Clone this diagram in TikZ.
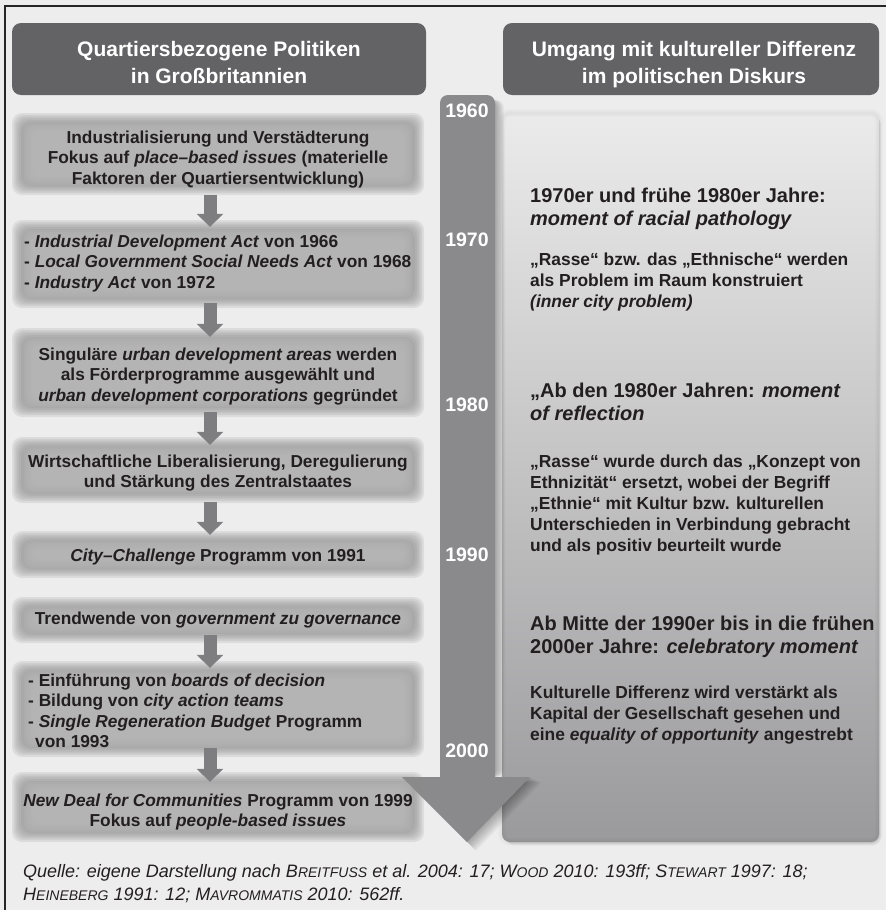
\documentclass[tikz,border=0pt]{standalone}
\usepackage{fontspec}
\setmainfont{Liberation Sans}
\usetikzlibrary{arrows.meta}
\definecolor{bg}{HTML}{EDEDED}
\definecolor{hdr}{HTML}{636365}
\definecolor{txt}{HTML}{231F20}
\definecolor{tl}{HTML}{8A8A8C}
\definecolor{boxdark}{HTML}{8A8A8A}
\definecolor{boxlight}{HTML}{BBBBBB}
\definecolor{arr}{HTML}{7E7E80}
\definecolor{paneltop}{HTML}{EBEBEB}
\definecolor{panelbot}{HTML}{9A9A9C}
\newcommand\fakesc[2]{#1{\fontsize{14}{14}\selectfont #2}}
\newcommand\softbox[5]{%
  \foreach \i in {0,...,5}{%
    \fill[boxdark, opacity=0.17, rounded corners=10pt] ({#2+\i*1.8},{#3+\i*1.8}) rectangle ({#4-\i*1.8},{#5-\i*1.8});
  }%
  \foreach \i in {0,...,4}{%
    \fill[boxlight, opacity=0.22, rounded corners=8pt] ({#2+12+\i*2.2},{#3+10+\i*2.2}) rectangle ({#4-12-\i*2.2},{#5-10-\i*2.2});
  }%
  \node[inner sep=0, minimum width={(#4-#2)*1pt}, minimum height={(#5-#3)*1pt}] (#1) at ({(#2+#4)/2},{(#3+#5)/2}) {};
}
\begin{document}
\begin{tikzpicture}[x=1pt,y=-1pt,
  headbox/.style={fill=hdr, rounded corners=9pt, inner sep=0},
  headtext/.style={text=white, font=\fontsize{21}{27}\selectfont\bfseries, align=center, inner sep=0, anchor=base},
  ltext/.style={text=txt, font=\fontsize{17.3}{20.5}\selectfont\bfseries, inner sep=0},
  rhead/.style={text=txt, font=\fontsize{20}{23.5}\selectfont\bfseries, align=left, inner sep=0, anchor=base west},
  rbody/.style={text=txt, font=\fontsize{17.4}{21}\selectfont\bfseries, align=left, inner sep=0, anchor=base west},
  year/.style={text=white, font=\fontsize{19.5}{20}\selectfont\bfseries, inner sep=0, anchor=base},
  flow/.style={draw=arr, line width=13pt, -{Triangle[width=26pt,length=13pt]}},
]
\useasboundingbox (0,0) rectangle (886,910);
\fill[bg] (0,0) rectangle (886,910);
\draw[black!85, line width=1.3pt] (5,910) -- (5,6) -- (886,6);

% headers (text nodes are anchored at the baseline of their last line)
\node[headbox, minimum width=414pt, minimum height=72pt] (hl) at (219,59) {};
\node[headtext] (hlt) at (219,83) {Quartiersbezogene Politiken\\in Großbritannien};
\node[headbox, minimum width=376pt, minimum height=72pt] (hr) at (691,59) {};
\node[headtext] (hrt) at (694,83) {Umgang mit kultureller Differenz\\im politischen Diskurs};

% right panel
\foreach \i in {1,...,6}{
  \fill[black, opacity=0.02, rounded corners=9pt] (502+\i*0.6,113+\i*0.6) rectangle (879+\i*0.4,842+\i*0.6);
}
\shade[top color=paneltop, bottom color=panelbot, rounded corners=8pt] (502,113) rectangle (879,842);
\foreach \i in {1,...,4}{
  \draw[black, opacity=0.012, line width=\i*2pt, rounded corners=8pt] (502,113) rectangle (879,842);
}

% timeline shadow
\foreach \i in {1,...,9}{
  \fill[black, opacity=0.035, rounded corners=8pt] (440+\i,100) -- (495+\i,100) -- (495+\i,777) -- (440+\i,777) -- cycle;
  \fill[black, opacity=0.035] (402+\i*1.3,777+\i*0.6) -- (530+\i*1.3,777+\i*0.6) -- (467+\i*1.0,842+\i*1.0) -- cycle;
}
% timeline
\fill[tl, rounded corners=8pt] (440,790) -- (440,95) -- (495,95) -- (495,790) -- cycle;
\fill[tl] (402,777) -- (530,777) -- (467,842) -- cycle;
\node[year] (y60) at (467,117) {1960};
\node[year] (y70) at (467,246) {1970};
\node[year] (y80) at (467,411) {1980};
\node[year] (y90) at (467,561) {1990};
\node[year] (y00) at (467,757) {2000};

% left boxes
\softbox{b1}{12}{113}{424}{195}
\softbox{b2}{12}{220}{424}{308}
\softbox{b3}{12}{328}{424}{417}
\softbox{b4}{12}{437}{424}{503}
\softbox{b5}{12}{531}{424}{578}
\softbox{b6}{12}{597}{424}{643}
\softbox{b7}{12}{661}{424}{757}
\softbox{b8}{12}{772}{424}{842}

\node[ltext, align=center, anchor=base] (t1) at (218,184) {Industrialisierung und Verstädterung\\Fokus auf \textit{place–based issues} (materielle\\Faktoren der Quartiersentwicklung)};
\node[ltext, align=left, anchor=base west] (t2) at (24,288) {- \textit{Industrial Development Act} von 1966\\- \textit{Local Government Social Needs Act} von 1968\\- \textit{Industry Act} von 1972};
\node[ltext, align=center, anchor=base] (t3) at (218,401) {Singuläre \textit{urban development areas} werden\\als Förderprogramme ausgewählt und\\\textit{urban development corporations} gegründet};
\node[ltext, align=center, anchor=base] (t4) at (218,487.5) {Wirtschaftliche Liberalisierung, Deregulierung\\und Stärkung des Zentralstaates};
\node[ltext, align=center, anchor=base] (t5) at (218,561) {\textit{City–Challenge} Programm von 1991};
\node[ltext, align=center, anchor=base] (t6) at (218,624) {Trendwende von \textit{government zu governance}};
\node[ltext, align=left, anchor=base west] (t7) at (28,747.5) {- Einführung von \textit{boards of decision}\\- Bildung von \textit{city action teams}\\- \textit{Single Regeneration Budget} Programm\\\hspace*{7pt}von 1993};
\node[ltext, align=center, anchor=base] (t8) at (218,826.5) {\textit{New Deal for Communities} Programm von 1999\\Fokus auf \textit{people-based issues}};

% flow arrows
\draw[flow] ([xshift=-8pt]b1.south) -- ([xshift=-8pt,yshift=-7pt]b2.north);
\draw[flow] ([xshift=-8pt,yshift=5pt]b2.south) -- ([xshift=-8pt,yshift=-9pt]b3.north);
\draw[flow] ([xshift=-8pt,yshift=5pt]b3.south) -- ([xshift=-8pt,yshift=-8pt]b4.north);
\draw[flow] ([xshift=-8pt,yshift=1pt]b4.south) -- ([xshift=-8pt,yshift=-4pt]b5.north);
\draw[flow] ([xshift=-8pt,yshift=8pt]b6.south) -- ([xshift=-8pt,yshift=-7pt]b7.north);
\draw[flow] ([xshift=-8pt,yshift=9pt]b7.south) -- ([xshift=-8pt,yshift=-10pt]b8.north);

% right texts
\node[rhead] (r1) at (530,225.5) {1970er und frühe 1980er Jahre:\\\textit{moment of racial pathology}};
\node[rbody] (r2) at (530,307) {„Rasse“ bzw. das „Ethnische“ werden\\als Problem im Raum konstruiert\\\textit{(inner city problem)}};
\node[rhead] (r3) at (530,420.5) {„Ab den 1980er Jahren: \textit{moment}\\\textit{of reflection}};
\node[rbody] (r4) at (530,551) {„Rasse“ wurde durch das „Konzept von\\Ethnizität“ ersetzt, wobei der Begriff\\„Ethnie“ mit Kultur bzw. kulturellen\\Unterschieden in Verbindung gebracht\\und als positiv beurteilt wurde};
\node[rhead] (r5) at (530,653.5) {Ab Mitte der 1990er bis in die frühen\\2000er Jahre: \textit{celebratory moment}};
\node[rbody] (r6) at (530,740) {Kulturelle Differenz wird verstärkt als\\Kapital der Gesellschaft gesehen und\\eine \textit{equality of opportunity} angestrebt};

% caption
\node[text=txt, font=\fontsize{18}{23}\selectfont\itshape, align=left, inner sep=0, anchor=base west] (cap) at (23,900)
 {Quelle: eigene Darstellung nach \fakesc{B}{REITFUSS} et al. 2004: 17; \fakesc{W}{OOD} 2010: 193ff; \fakesc{S}{TEWART} 1997: 18;\\\fakesc{H}{EINEBERG} 1991: 12; \fakesc{M}{AVROMMATIS} 2010: 562ff.};
\end{tikzpicture}
\end{document}
